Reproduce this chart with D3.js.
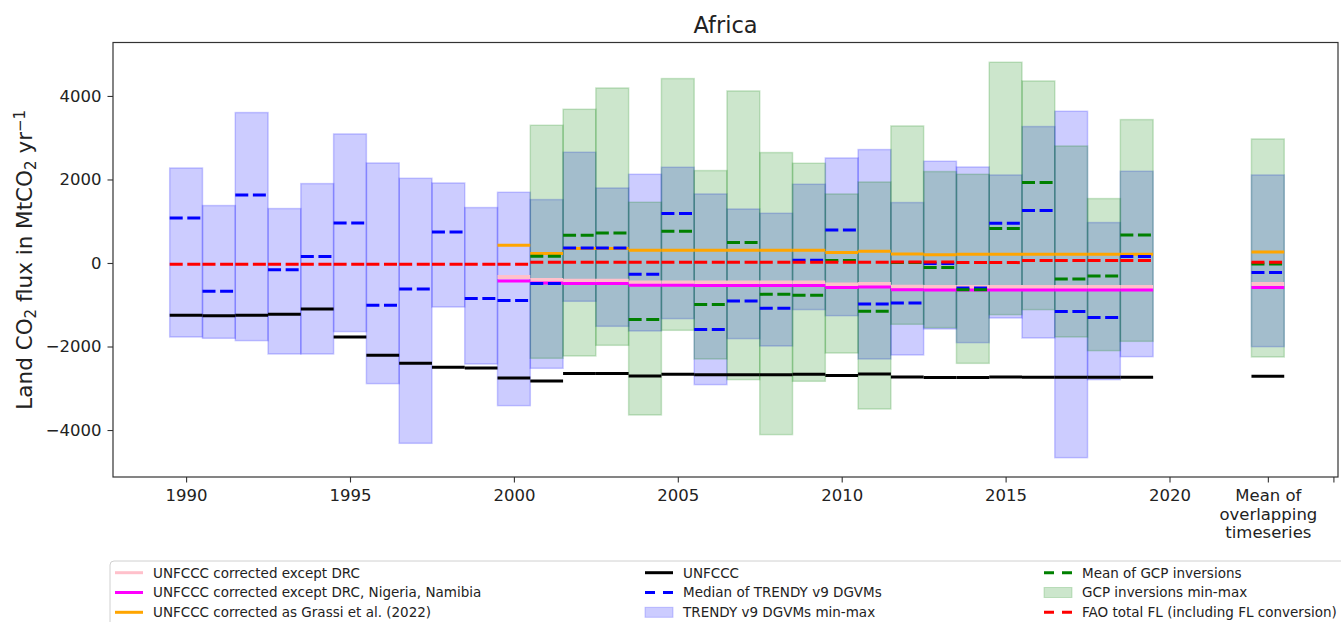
<!DOCTYPE html>
<html><head><meta charset="utf-8">
<script src="https://cdn.jsdelivr.net/npm/d3@7"></script>
<style>
body{margin:0;background:#fff}
svg{display:block}
text{font-family:"DejaVu Sans",sans-serif;fill:#222}
</style>
</head><body>
<svg id="c" width="1341" height="622"></svg>
<script>
// ---------------- DATA ----------------
const years = [1990,1991,1992,1993,1994,1995,1996,1997,1998,1999,
               2000,2001,2002,2003,2004,2005,2006,2007,2008,2009,
               2010,2011,2012,2013,2014,2015,2016,2017,2018,2019];
const trendyMax = [2275,1375,3602,1303,1901,3090,2395,2028,1916,1327,
                   1693,1518,2651,1796,2124,2292,1653,1293,1190,1885,
                   2515,2716,1447,2436,2299,2108,3267,3633,968,2196];
const trendyMin = [-1772,-1803,-1859,-2179,-2179,-1643,-2889,-4318,-1054,-2419,
                   -3416,-2522,-917,-1516,-1628,-1332,-2913,-1811,-1988,-1116,
                   -1261,-2299,-2203,-1580,-1907,-1317,-1796,-4662,-2793,-2243];
const trendyMedian = [1078,-678,1629,-159,153,958,-1013,-622,743,-853,
                      -901,-494,359,359,-271,1183,-1595,-910,-1085,65,
                      790,-982,-958,-14,-599,951,1255,-1164,-1308,153];
const unfccc = [-1253,-1261,-1253,-1229,-1101,-1772,-2211,-2403,-2498,-2515,
                -2754,-2826,-2649,-2649,-2706,-2666,-2674,-2674,-2674,-2666,
                -2697,-2658,-2730,-2745,-2745,-2730,-2735,-2735,-2735,-2735];
const fao = [-30,-30,-30,-30,-30,-30,-30,-30,-30,-30,
             -30,17,17,17,17,17,17,17,17,17,
             17,17,24,24,10,10,57,57,57,57];

const gcpYears = [2001,2002,2003,2004,2005,2006,2007,2008,2009,2010,
                  2011,2012,2013,2014,2015,2016,2017,2018,2019];
const gcpMax = [3298,3681,4191,1454,4416,2213,4120,2644,2388,1653,
                1940,3282,2189,2124,4807,4359,2802,1542,3434];
const gcpMin = [-2282,-2227,-1971,-3640,-1612,-2299,-2793,-4110,-2833,-2156,
                -3497,-1468,-1548,-2403,-1237,-1117,-1772,-2099,-1876];
const gcpMean = [160,663,719,-1356,759,-997,488,-750,-774,60,
                 -1157,10,-110,-638,823,1926,-383,-311,671];

const corrYears = [2000,2001,2002,2003,2004,2005,2006,2007,2008,2009,
                   2010,2011,2012,2013,2014,2015,2016,2017,2018,2019];
const corrExDRC = [-335,-410,-425,-425,-465,-465,-470,-470,-470,-470,
                   -518,-505,-570,-575,-575,-575,-575,-575,-575,-575];
const corrExDRCNgNa = [-431,-480,-494,-494,-534,-534,-540,-540,-540,-540,
                       -590,-575,-638,-646,-646,-646,-646,-646,-646,-646];
const corrGrassi = [424,225,345,345,304,304,304,304,304,304,
                    249,280,216,200,210,210,210,210,210,210];

// mean of overlapping timeseries (plotted at x = 2023)
const meanPos = 2023;
const meanValues = {trendyMax:2108, trendyMin:-2003, gcpMax:2970, gcpMin:-2251,
  trendyMedian:-230, gcpMean:-24, fao:17, grassi:264, exDRC:-502, exDRCNgNa:-590, unfccc:-2714};

const xTicks = [1990,1995,2000,2005,2010,2015,2020,2023,2025];
const xTickLabels = ["1990","1995","2000","2005","2010","2015","2020","Mean of\noverlapping\ntimeseries",""];
const yTicks = [-4000,-2000,0,2000,4000];

// ---------------- CHART ----------------
const svg = d3.select("#c");
const L = 113, R = 1338, T = 42.5, B = 477;
const x = d3.scaleLinear().domain([1987.77, 2025.14]).range([L, R]);
const y = d3.scaleLinear().domain([-5125, 5280]).range([B, T]);

const g = svg.append("g");
svg.append("clipPath").attr("id","pc").append("rect")
  .attr("x",L).attr("y",T).attr("width",R-L).attr("height",B-T);
const plot = g.append("g").attr("clip-path","url(#pc)");

function barRects(xs, lo, hi, color){
  plot.append("g").selectAll("rect").data(xs.map((v,i)=>({x:v,lo:lo[i],hi:hi[i]})))
    .join("rect")
    .attr("x", d=>x(d.x-0.5)).attr("width", d=>x(d.x+0.5)-x(d.x-0.5))
    .attr("y", d=>y(d.hi)).attr("height", d=>y(d.lo)-y(d.hi))
    .attr("fill", color).attr("fill-opacity",0.2)
    .attr("stroke", color).attr("stroke-opacity",0.2).attr("stroke-width",1.5);
}
barRects(years.concat([meanPos]), trendyMin.concat([meanValues.trendyMin]), trendyMax.concat([meanValues.trendyMax]), "#0000ff");
barRects(gcpYears.concat([meanPos]), gcpMin.concat([meanValues.gcpMin]), gcpMax.concat([meanValues.gcpMax]), "#008000");

function segs(xs, vals, color, width, dashed){
  plot.append("g").selectAll("line").data(xs.map((v,i)=>({x:v,v:vals[i]})))
    .join("line")
    .attr("x1", d=>x(d.x-0.5)).attr("x2", d=>x(d.x+0.5))
    .attr("y1", d=>y(d.v)).attr("y2", d=>y(d.v))
    .attr("stroke", color).attr("stroke-width", width)
    .attr("stroke-dasharray", dashed ? "13,4.6" : null);
}
segs(corrYears.concat([meanPos]), corrExDRC.concat([meanValues.exDRC]), "#ffc0cb", 4, false);
segs(corrYears.concat([meanPos]), corrExDRCNgNa.concat([meanValues.exDRCNgNa]), "#ff00ff", 3, false);
segs(corrYears.concat([meanPos]), corrGrassi.concat([meanValues.grassi]), "#ffa500", 3, false);
segs(years.concat([meanPos]), unfccc.concat([meanValues.unfccc]), "#000000", 3, false);
segs(years.concat([meanPos]), trendyMedian.concat([meanValues.trendyMedian]), "#0000ff", 3, true);
segs(gcpYears.concat([meanPos]), gcpMean.concat([meanValues.gcpMean]), "#008000", 3, true);
segs(years.concat([meanPos]), fao.concat([meanValues.fao]), "#ff0000", 3, true);

// axes
const fmtY = d => d < 0 ? "\u2212" + Math.abs(d) : String(d);
const yAxis = g.append("g").attr("transform",`translate(${L},0)`)
  .call(d3.axisLeft(y).tickValues(yTicks).tickFormat(fmtY).tickSize(5.5).tickPadding(6));
const xAxis = g.append("g").attr("transform",`translate(0,${B})`)
  .call(d3.axisBottom(x).tickValues(xTicks).tickFormat((d,i)=>xTickLabels[i]).tickSize(5.5).tickPadding(7));
[yAxis,xAxis].forEach(a=>{
  a.select(".domain").remove();
  a.selectAll(".tick line").attr("stroke","#333").attr("stroke-width",1.1);
  a.selectAll(".tick text").style("font-family","DejaVu Sans").style("font-size","16.5px").attr("fill","#222");
});
xAxis.selectAll(".tick text").each(function(d,i){
  const lab = xTickLabels[i];
  if(lab.indexOf("\n")>=0){
    const t = d3.select(this); t.text(null);
    lab.split("\n").forEach((s,k)=>{
      t.append("tspan").attr("x",0).attr("dy", k===0 ? "0.71em" : "1.11em").text(s);
    });
    t.attr("dy", null);
  }
});

// frame
g.append("rect").attr("x",L).attr("y",T).attr("width",R-L).attr("height",B-T)
  .attr("fill","none").attr("stroke","#333").attr("stroke-width",1.2);

// title
svg.append("text").attr("x",(L+R)/2).attr("y",33).attr("text-anchor","middle")
  .style("font-size","22.5px").text("Africa");

// y label
const yl = svg.append("text").attr("transform",`translate(32,${(T+B)/2}) rotate(-90)`)
  .attr("text-anchor","middle").style("font-size","21.5px");
yl.append("tspan").text("Land CO");
yl.append("tspan").attr("baseline-shift","-25%").style("font-size","15px").text("2");
yl.append("tspan").text(" flux in MtCO");
yl.append("tspan").attr("baseline-shift","-25%").style("font-size","15px").text("2");
yl.append("tspan").text(" yr");
yl.append("tspan").attr("baseline-shift","45%").style("font-size","15px").text("\u22121");

// legend
const leg = svg.append("g");
leg.append("rect").attr("x",110).attr("y",561).attr("width",1250).attr("height",90).attr("rx",4)
  .attr("fill","#fff").attr("fill-opacity",0.8).attr("stroke","#d0d0d0").attr("stroke-width",1);
const legendItems = [
  {col:0,row:0,type:"line",color:"#ffc0cb",label:"UNFCCC corrected except DRC"},
  {col:0,row:1,type:"line",color:"#ff00ff",label:"UNFCCC corrected except DRC, Nigeria, Namibia"},
  {col:0,row:2,type:"line",color:"#ffa500",label:"UNFCCC corrected as Grassi et al. (2022)"},
  {col:1,row:0,type:"line",color:"#000000",label:"UNFCCC"},
  {col:1,row:1,type:"dash",color:"#0000ff",label:"Median of TRENDY v9 DGVMs"},
  {col:1,row:2,type:"patch",color:"#0000ff",label:"TRENDY v9 DGVMs min-max"},
  {col:2,row:0,type:"dash",color:"#008000",label:"Mean of GCP inversions"},
  {col:2,row:1,type:"patch",color:"#008000",label:"GCP inversions min-max"},
  {col:2,row:2,type:"dash",color:"#ff0000",label:"FAO total FL (including FL conversion)"}
];
const colX = [115, 645, 1044], rowY = [572.7, 592.5, 612.3];
legendItems.forEach(it=>{
  const x0 = colX[it.col], yy = rowY[it.row];
  if(it.type==="patch"){
    leg.append("rect").attr("x",x0).attr("y",yy-5).attr("width",28).attr("height",10)
      .attr("fill",it.color).attr("fill-opacity",0.2).attr("stroke",it.color).attr("stroke-opacity",0.2);
  } else {
    leg.append("line").attr("x1",x0).attr("x2",x0+28).attr("y1",yy).attr("y2",yy)
      .attr("stroke",it.color).attr("stroke-width",3)
      .attr("stroke-dasharray", it.type==="dash" ? "10,8" : null);
  }
  leg.append("text").attr("x",x0+38).attr("y",yy).attr("dy","0.36em")
    .style("font-size","13.5px").text(it.label);
});
</script>
</body></html>
